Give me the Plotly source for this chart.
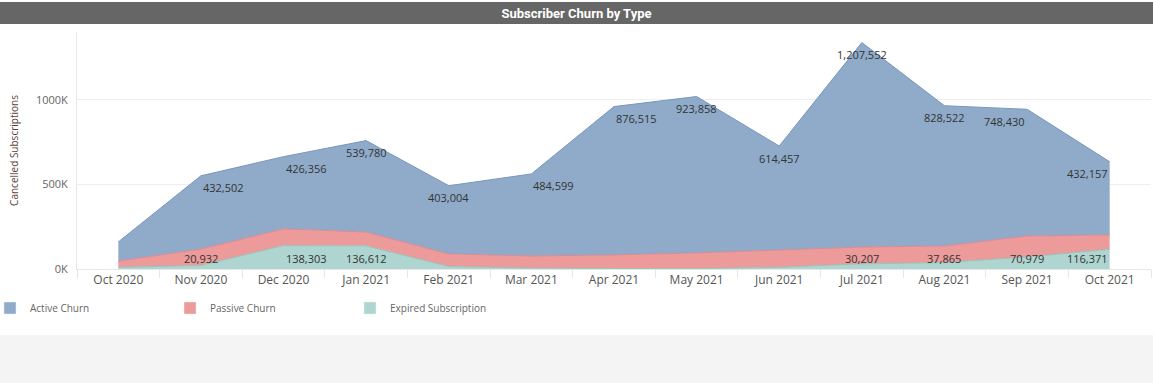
import plotly.graph_objects as go

months = ["Oct 2020", "Nov 2020", "Dec 2020", "Jan 2021", "Feb 2021", "Mar 2021", "Apr 2021",
          "May 2021", "Jun 2021", "Jul 2021", "Aug 2021", "Sep 2021", "Oct 2021"]
active = [113000, 432502, 426356, 539780, 403004, 484599, 876515, 923858, 614457, 1207552, 828522, 748430, 432157]
passive = [37000, 97000, 99000, 82000, 74000, 72000, 80000, 93000, 102000, 100000, 98000, 124000, 85000]
expired = [10000, 20932, 138303, 136612, 15000, 5000, 3000, 2000, 10000, 30207, 37865, 70979, 116371]

active_label_shown = [False] + [True] * 12
expired_label_shown = [False, True, True, True, False, False, False, False, False, True, True, True, True]
active_anchor = ["center", "left", "left", "center", "center", "left", "left", "center", "center",
                 "center", "center", "right", "right"]
expired_anchor = ["center", "center", "left", "center", "center", "center", "center", "center",
                  "center", "center", "center", "center", "right"]

y_ticks = [0, 500000, 1000000]
y_tick_text = ["0K", "500K", "1000K"]

C_ACTIVE = "#8fabc9"
C_PASSIVE = "#ec9a9a"
C_EXPIRED = "#aed5cf"
FONT = "Open Sans, Noto Sans, sans-serif"

fig = go.Figure()
fig.add_trace(go.Scatter(x=months, y=expired, stackgroup="one", mode="lines",
                         line=dict(color="#97c4bd", width=1), fillcolor=C_EXPIRED, showlegend=False,
                         name="Expired Subscription"))
fig.add_trace(go.Scatter(x=months, y=passive, stackgroup="one", mode="lines",
                         line=dict(color="#d88a95", width=1), fillcolor=C_PASSIVE, showlegend=False,
                         name="Passive Churn"))
fig.add_trace(go.Scatter(x=months, y=active, stackgroup="one", mode="lines",
                         line=dict(color="#7896bb", width=1), fillcolor=C_ACTIVE, showlegend=False,
                         name="Active Churn"))

for name, col in [("Active Churn", C_ACTIVE), ("Passive Churn", C_PASSIVE), ("Expired Subscription", C_EXPIRED)]:
    fig.add_trace(go.Bar(x=[None], y=[None], name=name, marker=dict(color=col), showlegend=True))

totals = [a + p + e for a, p, e in zip(active, passive, expired)]
annotations = []
for m, t, v, s, anc in zip(months, totals, active, active_label_shown, active_anchor):
    if s:
        annotations.append(dict(x=m, y=t, xref="x", yref="y", text=f"{v:,}", showarrow=False,
                                xanchor=anc, yanchor="middle", yshift=-12,
                                font=dict(family=FONT, size=11, color="#333333")))
for m, v, s, anc in zip(months, expired, expired_label_shown, expired_anchor):
    if s:
        annotations.append(dict(x=m, y=0, xref="x", yref="y", text=f"{v:,}", showarrow=False,
                                xanchor=anc, yanchor="bottom", yshift=1,
                                font=dict(family=FONT, size=11, color="#333333")))

W, H = 1153, 383
ML, MR, MT, MB = 77, 2, 32, 114
PW, PH = W - ML - MR, H - MT - MB

def px_x(p):
    return (p - ML) / PW

def px_y(p):
    return (H - MB - p) / PH

fig.update_layout(
    width=W, height=H, autosize=False,
    margin=dict(l=ML, r=MR, t=MT, b=MB, autoexpand=False),
    paper_bgcolor="white", plot_bgcolor="white",
    font=dict(family=FONT, color="#555555"),
    title=dict(text="Subscriber Churn by Type", x=0.5, xanchor="center", y=1 - 13 / H, yanchor="middle",
               xref="container", yref="container",
               font=dict(family="Roboto, sans-serif", size=13, color="white", weight="bold")),
    showlegend=True,
    legend=dict(orientation="h", x=px_x(-10), xanchor="left", y=px_y(308), yanchor="middle",
                entrywidth=135, entrywidthmode="pixels", itemwidth=30,
                font=dict(family=FONT, size=10, color="#666666"), bgcolor="rgba(0,0,0,0)",
                traceorder="normal"),
    xaxis=dict(type="category", range=[-0.5, 12.5], showgrid=False, tickson="boundaries",
               ticks="outside", ticklen=8, tickcolor="#e6e6e6", showline=True, linecolor="#e6e6e6",
               tickfont=dict(family=FONT, size=12, color="#555555"), fixedrange=True, automargin=False),
    yaxis=dict(range=[0, 1400000], tickvals=y_ticks, ticktext=y_tick_text, showgrid=True,
               gridcolor="#eeeeee", zeroline=False, showline=True, linecolor="#e6e6e6",
               ticks="outside", ticklen=6, tickcolor="rgba(0,0,0,0)", automargin=False,
               tickfont=dict(family=FONT, size=11, color="#666666"),
               title=dict(text="Cancelled Subscriptions", font=dict(family=FONT, size=10, color="#5a4038"))),
    annotations=annotations,
    shapes=[
        dict(type="rect", xref="paper", yref="paper", x0=px_x(0), x1=px_x(W), y0=px_y(24), y1=px_y(2),
             fillcolor="#666666", line=dict(width=0), layer="below"),
        dict(type="rect", xref="paper", yref="paper", x0=px_x(0), x1=px_x(W), y0=px_y(H), y1=px_y(335),
             fillcolor="#f4f4f4", line=dict(width=0), layer="below"),
    ],
)

fig.write_html("out.html", config={"displayModeBar": False},
               post_script="document.body.style.margin='0';document.body.style.padding='0';")
